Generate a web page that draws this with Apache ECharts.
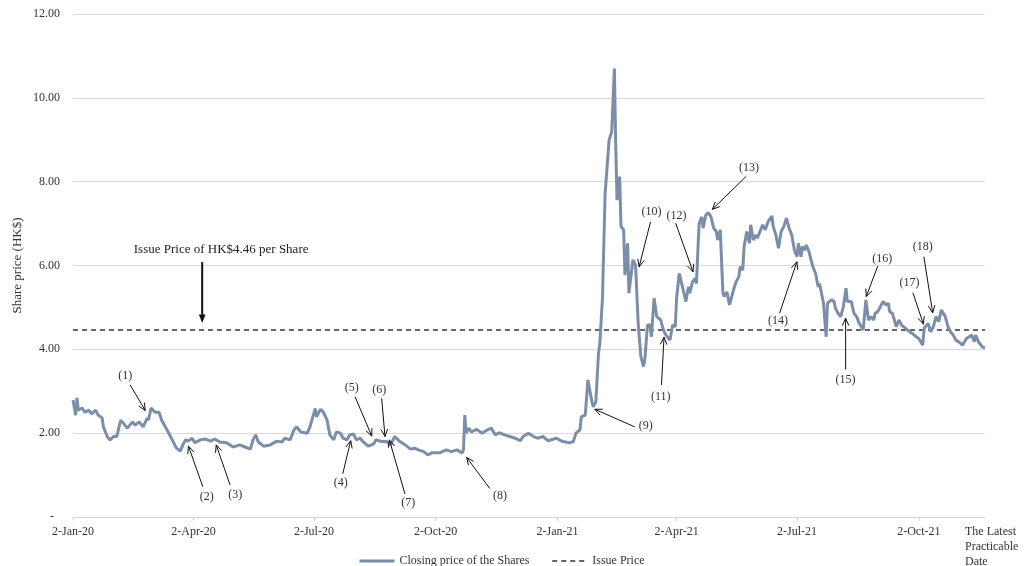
<!DOCTYPE html>
<html>
<head>
<meta charset="utf-8">
<script src="https://cdn.jsdelivr.net/npm/echarts@6/dist/echarts.min.js"></script>
<style>
html,body{margin:0;padding:0;background:#fff;}
#chart{width:1027px;height:566px;}
</style>
</head>
<body>
<div id="chart"></div>
<script>
// Day offsets from 2-Jan-2020
const days = [0,2,3,4,7,9,12,14,17,19,22,23,26,28,31,33,36,38,41,45,47,50,53,56,57,59,62,65,67,71,75,78,81,83,85,87,90,92,96,100,104,107,111,116,121,126,130,134,136,138,140,144,149,154,158,160,164,167,169,
172,177,179,183,184,187,189,192,194,197,199,202,204,207,209,212,214,217,219,223,227,229,233,237,240,243,247,251,255,258,261,265,268,271,277,282,286,290,294,295,296,297,299,301,305,309,312,316,319,322,326,330,334,338,340,344,348,351,355,359,
365,370,375,378,380,383,384,387,389,392,393,395,397,398,400,402,403,405,407,409,410,411,413,414,416,417,419,420,423,425,427,429,431,432,434,436,437,439,441,444,446,448,449,451,453,455,456,458,461,463,465,466,468,470,471,
473,475,476,478,480,482,484,486,487,489,491,492,494,496,497,499,501,503,504,506,507,509,511,512,514,516,517,519,521,523,525,528,529,531,533,535,537,539,541,543,545,547,548,550,551,553,554,556,559,561,563,564,567,569,570,573,575,576,578,580,582,584,585,588,590,592,594,597,599,600,601,603,605,606,608,610,612,614,616,617,619,622,624,626,629,632,634,637,639,642,643,646,648,650,652,654,656,657,659,661,663,665,667,670,672,675,677,679,681,682,684,685,687,689];
const prices = [2.79,2.43,2.84,2.55,2.60,2.50,2.55,2.46,2.55,2.43,2.36,2.15,1.91,1.84,1.93,1.91,2.31,2.24,2.12,2.27,2.19,2.27,2.15,2.36,2.31,2.60,2.50,2.50,2.31,2.08,1.84,1.65,1.57,1.72,1.84,1.81,1.88,1.77,1.84,1.86,1.81,1.86,1.79,1.77,1.67,1.72,1.67,1.62,1.84,1.96,1.79,1.69,1.72,1.81,1.79,1.88,1.84,2.08,2.15,
2.03,2.00,2.15,2.59,2.39,2.57,2.51,2.31,1.96,1.84,2.03,2.00,1.88,1.84,1.96,1.98,1.84,1.88,1.80,1.69,1.74,1.84,1.80,1.80,1.72,1.92,1.80,1.72,1.62,1.64,1.60,1.56,1.48,1.53,1.53,1.60,1.56,1.60,1.53,1.60,2.43,2.00,2.12,2.03,2.09,2.00,2.06,2.12,1.96,2.01,1.96,1.92,1.88,1.82,1.92,2.00,1.92,1.88,1.92,1.82,
1.88,1.80,1.77,1.80,2.00,2.08,2.39,2.43,3.27,2.75,2.63,2.75,3.90,4.14,5.22,7.72,7.72,8.99,9.19,10.70,8.91,7.56,8.12,6.93,6.85,5.77,6.53,5.34,6.13,6.01,4.62,3.83,3.59,3.75,4.58,4.58,4.30,5.22,4.78,4.70,4.46,4.34,4.38,4.22,4.58,4.54,5.22,5.81,5.42,5.14,5.49,5.34,5.61,5.69,5.57,
7.00,7.16,6.89,7.20,7.26,7.16,6.89,6.81,6.61,6.85,5.34,5.26,5.37,5.06,5.06,5.42,5.61,5.73,5.97,5.89,6.45,6.81,6.53,6.97,6.61,6.73,6.65,6.81,6.97,6.85,7.04,7.18,6.93,6.73,6.41,6.81,6.93,7.13,6.89,6.73,6.37,6.21,6.53,6.21,6.45,6.37,6.49,6.33,5.97,5.81,5.49,5.57,5.10,4.30,5.10,5.18,5.14,4.98,4.86,4.78,5.02,5.46,5.14,5.14,4.86,4.78,4.62,4.46,5.18,5.18,4.70,4.78,4.70,4.86,4.90,5.02,5.14,5.06,5.10,4.90,4.86,4.54,4.70,4.58,4.50,4.42,4.38,4.30,4.26,4.10,4.50,4.62,4.42,4.54,4.78,4.66,4.94,4.94,4.78,4.54,4.42,4.34,4.22,4.16,4.10,4.26,4.30,4.34,4.18,4.34,4.18,4.16,4.06,4.03];

const issuePrice = 4.46;
const tickDays = [0, 91, 182, 274, 366, 456, 547, 639];
const tickLabels = ['2-Jan-20','2-Apr-20','2-Jul-20','2-Oct-20','2-Jan-21','2-Apr-21','2-Jul-21','2-Oct-21'];
const lastLabel = 'The Latest\nPracticable\nDate';
const yTicks = [0, 2, 4, 6, 8, 10, 12];

// Annotations: label text, text position, arrow tail, arrow tip (day, price)
const annLabels = ['(1)','(2)','(3)','(4)','(5)','(6)','(7)','(8)','(9)','(10)','(11)','(12)','(13)','(14)','(15)','(16)','(17)','(18)'];
const annText = [[39.5,3.36],[101,0.48],[122.5,0.52],[202.3,0.82],[210.6,3.07],[231.4,3.03],[253.3,0.34],[322.5,0.50],[432.7,2.17],[437,7.27],[444,2.87],[455.9,7.19],[510.7,8.32],[532.6,4.68],[583.7,3.27],[611.4,6.17],[632,5.59],[642,6.45]];
const annTail = [[43.2,3.15],[98.1,0.72],[118.7,0.76],[203.8,1.03],[213.1,2.87],[233.2,2.83],[250.8,0.55],[314.9,0.68],[424.4,2.15],[436.3,7.04],[444.6,3.15],[455.3,7.01],[508.7,8.13],[533.8,4.86],[583.7,3.52],[608,5.99],[634.5,5.35],[642.8,6.21]];
const annTip = [[54.6,2.54],[87.2,1.69],[108.2,1.72],[209.8,1.82],[225.7,1.93],[235.7,1.92],[239,1.84],[297.4,1.42],[394.2,2.57],[427.7,5.97],[446.5,4.29],[468.4,5.85],[483,7.34],[546.9,6.09],[583.7,4.74],[599.3,5.26],[642.5,4.60],[649.5,4.87]];

const issueLabel = 'Issue Price of HK$4.46 per Share';
const issueText = [111.9, 6.39];
const issueTail = [97.6, 6.08];
const issueTip = [97.6, 4.63];

const FONT = '"Liberation Serif","Times New Roman",serif';
const lastDay = days[days.length - 1];

const closeData = days.map((d, i) => [d, prices[i]]);
const annData = annLabels.map((l, i) => [annText[i][0], annText[i][1], annTail[i][0], annTail[i][1], annTip[i][0], annTip[i][1]]);

function renderAnn(params, api) {
  const t = api.coord([api.value(0), api.value(1)]);
  const a = api.coord([api.value(2), api.value(3)]);
  const b = api.coord([api.value(4), api.value(5)]);
  const ang = Math.atan2(b[1] - a[1], b[0] - a[0]);
  const L = 8, w = 0.42;
  const h1 = [b[0] - L * Math.cos(ang - w), b[1] - L * Math.sin(ang - w)];
  const h2 = [b[0] - L * Math.cos(ang + w), b[1] - L * Math.sin(ang + w)];
  return {
    type: 'group',
    children: [
      { type: 'line', shape: { x1: a[0], y1: a[1], x2: b[0], y2: b[1] }, style: { stroke: '#111', lineWidth: 1 } },
      { type: 'polyline', shape: { points: [h1, b, h2] }, style: { stroke: '#111', lineWidth: 1, fill: null } },
      { type: 'text', x: t[0], y: t[1], style: { text: annLabels[params.dataIndex], align: 'center', verticalAlign: 'middle', font: '12px ' + FONT, fill: '#333' } }
    ]
  };
}

function renderIssueAnn(params, api) {
  const t = api.coord([api.value(0), api.value(1)]);
  const a = api.coord([api.value(2), api.value(3)]);
  const b = api.coord([api.value(4), api.value(5)]);
  const ang = Math.atan2(b[1] - a[1], b[0] - a[0]);
  const L = 9, w = 0.38;
  const h1 = [b[0] - L * Math.cos(ang - w), b[1] - L * Math.sin(ang - w)];
  const h2 = [b[0] - L * Math.cos(ang + w), b[1] - L * Math.sin(ang + w)];
  const m = [b[0] - (L - 1) * Math.cos(ang), b[1] - (L - 1) * Math.sin(ang)];
  return {
    type: 'group',
    children: [
      { type: 'line', shape: { x1: a[0], y1: a[1], x2: m[0], y2: m[1] }, style: { stroke: '#111', lineWidth: 2 } },
      { type: 'polygon', shape: { points: [h1, b, h2] }, style: { fill: '#111' } },
      { type: 'text', x: t[0], y: t[1], style: { text: issueLabel, align: 'center', verticalAlign: 'middle', font: '13px ' + FONT, fill: '#222' } }
    ]
  };
}

const chart = echarts.init(document.getElementById('chart'), null, { renderer: 'canvas' });
chart.setOption({
  animation: false,
  backgroundColor: '#fff',
  textStyle: { fontFamily: FONT },
  grid: { left: 73, right: 42, top: 14, bottom: 49, containLabel: false, outerBoundsMode: 'none' },
  legend: {
    left: 353, top: 550,
    itemWidth: 35, itemHeight: 14, itemGap: 22,
    itemStyle: { opacity: 0 },
    textStyle: { fontFamily: FONT, fontSize: 12, color: '#333' },
    data: [
      { name: 'Closing price of the Shares', lineStyle: { width: 3, color: '#7b8ea9' } },
      { name: 'Issue Price', lineStyle: { width: 1.5, color: '#333', type: [5, 4] } }
    ]
  },
  xAxis: {
    type: 'value',
    min: 0, max: lastDay,
    axisLine: { show: true, lineStyle: { color: '#d4d4d4', width: 1 } },
    axisTick: { show: true, length: 4, lineStyle: { color: '#d4d4d4' }, customValues: tickDays },
    splitLine: { show: false },
    axisLabel: {
      customValues: tickDays.concat([lastDay]),
      margin: 7,
      color: '#333',
      fontFamily: FONT,
      fontSize: 12,
      lineHeight: 15,
      formatter: function (v) {
        const i = tickDays.indexOf(v);
        if (i >= 0) return tickLabels[i];
        return '{last|' + lastLabel + '}';
      },
      rich: {
        last: { width: 60, align: 'left', padding: [0, 0, 0, 20], fontFamily: FONT, fontSize: 12, lineHeight: 15, color: '#333' }
      }
    }
  },
  yAxis: {
    type: 'value',
    min: 0, max: 12, interval: 2,
    name: 'Share price (HK$)',
    nameLocation: 'middle',
    nameGap: 49,
    nameMoveOverlap: false,
    nameRotate: 90,
    nameTextStyle: { fontFamily: FONT, fontSize: 13, color: '#333' },
    axisLine: { show: false },
    axisTick: { show: false },
    splitLine: { show: true, lineStyle: { color: '#d9d9d9', width: 1 } },
    axisLabel: {
      margin: 13,
      color: '#333',
      fontFamily: FONT,
      fontSize: 12,
      formatter: function (v) { return v === 0 ? '-  ' : v.toFixed(2); }
    }
  },
  series: [
    {
      name: 'Closing price of the Shares',
      type: 'line',
      data: closeData,
      symbol: 'none',
      lineStyle: { color: '#7b8ea9', width: 3 },
      itemStyle: { color: '#7b8ea9' },
      z: 3
    },
    {
      name: 'Issue Price',
      type: 'line',
      data: [[0, issuePrice], [lastDay, issuePrice]],
      symbol: 'none',
      lineStyle: { color: '#333', width: 1.5, type: [5, 4] },
      itemStyle: { color: '#333' },
      z: 2
    },
    {
      name: 'annotations',
      type: 'custom',
      renderItem: renderAnn,
      data: annData,
      encode: { x: [0, 2, 4], y: [1, 3, 5] },
      clip: false,
      silent: true,
      z: 5
    },
    {
      name: 'issueAnnotation',
      type: 'custom',
      renderItem: renderIssueAnn,
      data: [[issueText[0], issueText[1], issueTail[0], issueTail[1], issueTip[0], issueTip[1]]],
      encode: { x: [0, 2, 4], y: [1, 3, 5] },
      clip: false,
      silent: true,
      z: 5
    }
  ]
});
</script>
</body>
</html>
